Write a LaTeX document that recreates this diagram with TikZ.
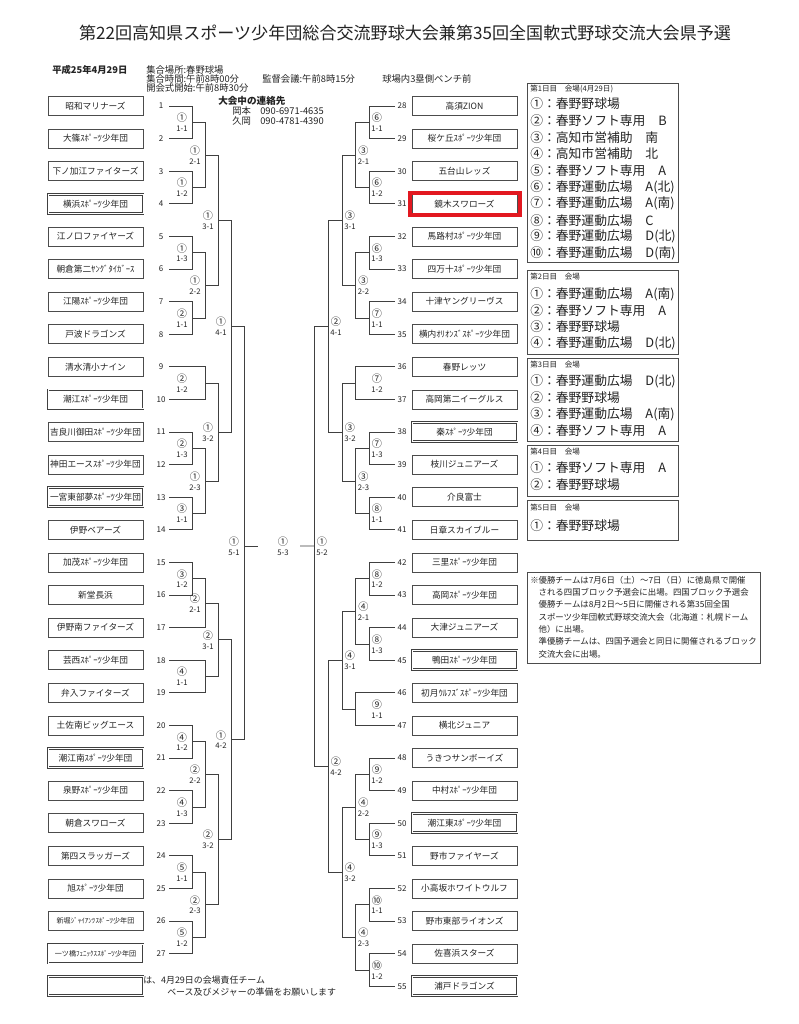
\documentclass[tikz,border=0pt]{standalone}
\usepackage{fontspec}
\newfontfamily\jp{Noto Sans CJK JP}
\usetikzlibrary{calc}
\definecolor{hl}{RGB}{226,24,32}
\definecolor{ink}{RGB}{35,35,35}
\newcommand\TL[3]{%
 \node[teamL,#3] (t#1) at (95.5,{106+(#1-1)*32.6}) {#2};
 \node[numtxt] (n#1) at (161,{106+(#1-1)*32.6}) {#1};
 \coordinate (p#1) at (169,{106+(#1-1)*32.6});}
\newcommand\TR[3]{%
 \node[teamR,#3] (t#1) at (464.5,{106+(#1-28)*32.6}) {#2};
 \node[numtxt] (n#1) at (402,{106+(#1-28)*32.6}) {#1};
 \coordinate (p#1) at (395,{106+(#1-28)*32.6});}
\newcommand\LM[7]{%
 \draw[br] (#2) -- (#2 -| #4) -- (#3 -| #4) -- (#3);
 \coordinate (#1) at ($(#2 -| #4)!0.5!(#3 -| #4)$);
 \node[mlab,xshift=-7.5pt] (l#1) at (#1 -| #7) {{\fontsize{7.6}{7.6}\selectfont #5}\\#6};}
\newcommand\RM[7]{%
 \draw[br] (#2) -- (#2 -| #4) -- (#3 -| #4) -- (#3);
 \coordinate (#1) at ($(#2 -| #4)!0.5!(#3 -| #4)$);
 \node[mlab,xshift=6pt] (l#1) at (#1 -| #7) {{\fontsize{7.6}{7.6}\selectfont #5}\\#6};}
\begin{document}
\begin{tikzpicture}[x=0.75pt,y=-0.75pt,
 tb/.style={draw=black!70, line width=0.5pt, minimum height=14.25pt, inner sep=0pt, font=\jp\fontsize{6.5}{6.5}\selectfont, text=ink},
 teamL/.style={tb, minimum width=71.25pt},
 teamR/.style={tb, minimum width=78.75pt},
 resp/.style={draw=black!75, double=white, double distance=0.75pt, line width=0.55pt},
 tsmall/.style={font=\jp\fontsize{5.3}{5.3}\selectfont},
 numtxt/.style={inner sep=0pt, font=\jp\fontsize{6}{6}\selectfont, text=ink},
 br/.style={draw=black!75, line width=0.55pt},
 mlab/.style={align=center, inner sep=0pt, font=\jp\fontsize{5.8}{7.4}\selectfont, text=ink},
 hd/.style={anchor=west, inner sep=0pt, font=\jp\fontsize{7}{7}\selectfont, text=ink},
 vbox/.style={draw=black!70, line width=0.6pt, anchor=north west, inner sep=0pt, minimum width=113.25pt},
 vt/.style={anchor=west, inner sep=0pt, font=\jp\fontsize{9.6}{9.6}\selectfont, text=ink},
 vh/.style={anchor=west, inner sep=0pt, font=\jp\fontsize{5.7}{5.7}\selectfont, text=ink}]
\useasboundingbox (0,0) rectangle (799,1024);
\fill[white] (0,0) rectangle (799,1024);
% title and header
\node[inner sep=0pt, font=\jp\fontsize{12.8}{12.8}\selectfont, text=ink] (title) at (405,33) {第22回高知県スポーツ少年団総合交流野球大会兼第35回全国軟式野球交流大会県予選};
\node[hd, font=\jp\bfseries\fontsize{7}{7}\selectfont] (date) at (52,70) {平成25年4月29日};
\node[hd] (h1) at (146,70) {集合場所:春野球場};
\node[hd] (h2) at (146,79) {集合時間:午前8時00分};
\node[hd] (h3) at (262,79) {監督会議:午前8時15分};
\node[hd] (h4) at (382,79) {球場内3塁側ベンチ前};
\node[hd] (h5) at (146,88) {開会式開始:午前8時30分};
\node[hd, font=\jp\bfseries\fontsize{7.2}{7.2}\selectfont] (c0) at (218,101) {大会中の連絡先};
\node[hd] (c1) at (232,111) {岡本　090-6971-4635};
\node[hd] (c2) at (232,121) {久岡　090-4781-4390};
% columns
\coordinate (xL1) at (192,0); \coordinate (xL2) at (205,0); \coordinate (xL3) at (218,0);
\coordinate (xL4) at (231,0); \coordinate (xL5) at (244,0);
\coordinate (xR1) at (369,0); \coordinate (xR2) at (355.5,0); \coordinate (xR3) at (342,0);
\coordinate (xR4) at (328,0); \coordinate (xR5) at (314,0);
% left teams
\TL{1}{昭和マリナーズ}{}
\TL{2}{大篠ｽﾎﾟｰﾂ少年団}{}
\TL{3}{下ノ加江ファイターズ}{}
\TL{4}{横浜ｽﾎﾟｰﾂ少年団}{resp}
\TL{5}{江ノ口ファイヤーズ}{}
\TL{6}{朝倉第二ﾔﾝｸﾞﾀｲｶﾞｰｽ}{}
\TL{7}{江陽ｽﾎﾟｰﾂ少年団}{}
\TL{8}{戸波ドラゴンズ}{}
\TL{9}{清水清小ナイン}{}
\TL{10}{潮江ｽﾎﾟｰﾂ少年団}{resp}
\TL{11}{吉良川御田ｽﾎﾟｰﾂ少年団}{}
\TL{12}{神田エースｽﾎﾟｰﾂ少年団}{}
\TL{13}{一宮東部夢ｽﾎﾟｰﾂ少年団}{resp}
\TL{14}{伊野ベアーズ}{}
\TL{15}{加茂ｽﾎﾟｰﾂ少年団}{}
\TL{16}{新堂長浜}{}
\TL{17}{伊野南ファイターズ}{}
\TL{18}{芸西ｽﾎﾟｰﾂ少年団}{}
\TL{19}{弁入ファイターズ}{}
\TL{20}{土佐南ビッグエース}{}
\TL{21}{潮江南ｽﾎﾟｰﾂ少年団}{resp}
\TL{22}{泉野ｽﾎﾟｰﾂ少年団}{}
\TL{23}{朝倉スワローズ}{}
\TL{24}{第四スラッガーズ}{}
\TL{25}{旭ｽﾎﾟｰﾂ少年団}{}
\TL{26}{新堀ｼﾞｬｲｱﾝﾂｽﾎﾟｰﾂ少年団}{tsmall}
\TL{27}{一ツ橋ﾌｪﾆｯｸｽｽﾎﾟｰﾂ少年団}{resp,tsmall}
% right teams
\TR{28}{高須ZION}{}
\TR{29}{桜ケ丘ｽﾎﾟｰﾂ少年団}{}
\TR{30}{五台山レッズ}{}
\TR{31}{鏡木スワローズ}{}
\TR{32}{馬路村ｽﾎﾟｰﾂ少年団}{}
\TR{33}{四万十ｽﾎﾟｰﾂ少年団}{}
\TR{34}{十津ヤングリーヴス}{}
\TR{35}{横内ｵﾘｵﾝｽﾞｽﾎﾟｰﾂ少年団}{}
\TR{36}{春野レッツ}{}
\TR{37}{高岡第二イーグルス}{}
\TR{38}{秦ｽﾎﾟｰﾂ少年団}{resp}
\TR{39}{枝川ジュニアーズ}{}
\TR{40}{介良富士}{}
\TR{41}{日章スカイブルー}{}
\TR{42}{三里ｽﾎﾟｰﾂ少年団}{}
\TR{43}{高岡ｽﾎﾟｰﾂ少年団}{}
\TR{44}{大津ジュニアーズ}{}
\TR{45}{鴨田ｽﾎﾟｰﾂ少年団}{resp}
\TR{46}{初月ｳﾙﾌｽﾞｽﾎﾟｰﾂ少年団}{}
\TR{47}{横北ジュニア}{}
\TR{48}{うきつサンボーイズ}{}
\TR{49}{中村ｽﾎﾟｰﾂ少年団}{}
\TR{50}{潮江東ｽﾎﾟｰﾂ少年団}{resp}
\TR{51}{野市ファイヤーズ}{}
\TR{52}{小高坂ホワイトウルフ}{}
\TR{53}{野市東部ライオンズ}{}
\TR{54}{佐喜浜スターズ}{}
\TR{55}{浦戸ドラゴンズ}{resp}
\node[draw=hl, line width=3pt, minimum width=82.5pt, minimum height=16.5pt, inner sep=0pt] (mark31) at (t31) {};
% left bracket
\LM{a1}{p1}{p2}{xL1}{①}{1-1}{xL1}
\LM{a2}{p3}{p4}{xL1}{①}{1-2}{xL1}
\LM{b1}{a1}{a2}{xL2}{①}{2-1}{xL2}
\LM{a3}{p5}{p6}{xL1}{①}{1-3}{xL1}
\LM{a4}{p7}{p8}{xL1}{②}{1-1}{xL1}
\LM{b2}{a3}{a4}{xL2}{①}{2-2}{xL2}
\LM{c1}{b1}{b2}{xL3}{①}{3-1}{xL3}
\LM{a5}{p9}{p10}{xL2}{②}{1-2}{xL1}
\LM{a6}{p11}{p12}{xL1}{②}{1-3}{xL1}
\LM{a7}{p13}{p14}{xL1}{③}{1-1}{xL1}
\LM{b3}{a6}{a7}{xL2}{①}{2-3}{xL2}
\LM{c2}{a5}{b3}{xL3}{①}{3-2}{xL3}
\LM{d1}{c1}{c2}{xL4}{①}{4-1}{xL4}
\LM{a8}{p15}{p16}{xL1}{③}{1-2}{xL1}
\LM{b4}{a8}{p17}{xL2}{②}{2-1}{xL2}
\LM{a9}{p18}{p19}{xL2}{④}{1-1}{xL1}
\LM{c3}{b4}{a9}{xL3}{②}{3-1}{xL3}
\LM{a10}{p20}{p21}{xL1}{④}{1-2}{xL1}
\LM{a11}{p22}{p23}{xL1}{④}{1-3}{xL1}
\LM{b5}{a10}{a11}{xL2}{②}{2-2}{xL2}
\LM{a12}{p24}{p25}{xL1}{⑤}{1-1}{xL1}
\LM{a13}{p26}{p27}{xL1}{⑤}{1-2}{xL1}
\LM{b6}{a12}{a13}{xL2}{②}{2-3}{xL2}
\LM{c4}{b5}{b6}{xL3}{②}{3-2}{xL3}
\LM{d2}{c3}{c4}{xL4}{①}{4-2}{xL4}
\coordinate (e1) at (244,546);
\coordinate (f1) at (258,546);
\draw[br] (d1) -- (d1 -| e1) -- (d2 -| e1) -- (d2);
\draw[br] (e1) -- (f1);
\node[mlab,xshift=-7.5pt] (le1) at (e1) {{\fontsize{7.6}{7.6}\selectfont ①}\\5-1};
% right bracket
\RM{g1}{p28}{p29}{xR1}{⑥}{1-1}{xR1}
\RM{g2}{p30}{p31}{xR1}{⑥}{1-2}{xR1}
\RM{h1}{g1}{g2}{xR2}{③}{2-1}{xR2}
\RM{g3}{p32}{p33}{xR1}{⑥}{1-3}{xR1}
\RM{g4}{p34}{p35}{xR1}{⑦}{1-1}{xR1}
\RM{h2}{g3}{g4}{xR2}{③}{2-2}{xR2}
\RM{i1}{h1}{h2}{xR3}{③}{3-1}{xR3}
\RM{g5}{p36}{p37}{xR2}{⑦}{1-2}{xR1}
\RM{g6}{p38}{p39}{xR1}{⑦}{1-3}{xR1}
\RM{g7}{p40}{p41}{xR1}{⑧}{1-1}{xR1}
\RM{h3}{g6}{g7}{xR2}{③}{2-3}{xR2}
\RM{i2}{g5}{h3}{xR3}{③}{3-2}{xR3}
\RM{j1}{i1}{i2}{xR4}{②}{4-1}{xR4}
\RM{g8}{p42}{p43}{xR1}{⑧}{1-2}{xR1}
\RM{g9}{p44}{p45}{xR1}{⑧}{1-3}{xR1}
\RM{h4}{g8}{g9}{xR2}{④}{2-1}{xR2}
\RM{g10}{p46}{p47}{xR2}{⑨}{1-1}{xR1}
\RM{i3}{h4}{g10}{xR3}{④}{3-1}{xR3}
\RM{g11}{p48}{p49}{xR1}{⑨}{1-2}{xR1}
\RM{g12}{p50}{p51}{xR1}{⑨}{1-3}{xR1}
\RM{h5}{g11}{g12}{xR2}{④}{2-2}{xR2}
\RM{g13}{p52}{p53}{xR1}{⑩}{1-1}{xR1}
\RM{g14}{p54}{p55}{xR1}{⑩}{1-2}{xR1}
\RM{h6}{g13}{g14}{xR2}{④}{2-3}{xR2}
\RM{i4}{h5}{h6}{xR3}{④}{3-2}{xR3}
\RM{j2}{i3}{i4}{xR4}{②}{4-2}{xR4}
\RM{k1}{j1}{j2}{xR5}{①}{5-2}{xR5}
\coordinate (f2) at (300,546);
\draw[br] (k1) -- (f2);
\node[mlab] (final) at (283,546) {{\fontsize{7.6}{7.6}\selectfont ①}\\5-3};
% venue boxes
\node[vbox, minimum height=134.25pt] (v1) at (527,83) {};
\node[vh] (v1h) at (530,89) {第1日目　会場(4月29日)};
\node[vt] (v11) at (530,104) {①：春野野球場};
\node[vt] (v12) at (530,120.6) {②：春野ソフト専用　B};
\node[vt] (v13) at (530,137.2) {③：高知市営補助　南};
\node[vt] (v14) at (530,153.8) {④：高知市営補助　北};
\node[vt] (v15) at (530,170.4) {⑤：春野ソフト専用　A};
\node[vt] (v16) at (530,187) {⑥：春野運動広場　A(北)};
\node[vt] (v17) at (530,203.6) {⑦：春野運動広場　A(南)};
\node[vt] (v18) at (530,220.2) {⑧：春野運動広場　C};
\node[vt] (v19) at (530,236.8) {⑨：春野運動広場　D(北)};
\node[vt] (v110) at (530,253.4) {⑩：春野運動広場　D(南)};
\node[vbox, minimum height=63pt] (v2) at (527,270) {};
\node[vh] (v2h) at (530,277) {第2日目　会場};
\node[vt] (v21) at (530,294) {①：春野運動広場　A(南)};
\node[vt] (v22) at (530,310.5) {②：春野ソフト専用　A};
\node[vt] (v23) at (530,327) {③：春野野球場};
\node[vt] (v24) at (530,343.5) {④：春野運動広場　D(北)};
\node[vbox, minimum height=62.25pt] (v3) at (527,358) {};
\node[vh] (v3h) at (530,365) {第3日目　会場};
\node[vt] (v31) at (530,381) {①：春野運動広場　D(北)};
\node[vt] (v32) at (530,397.5) {②：春野野球場};
\node[vt] (v33) at (530,414) {③：春野運動広場　A(南)};
\node[vt] (v34) at (530,430.5) {④：春野ソフト専用　A};
\node[vbox, minimum height=38.25pt] (v4) at (527,445) {};
\node[vh] (v4h) at (530,452) {第4日目　会場};
\node[vt] (v41) at (530,468) {①：春野ソフト専用　A};
\node[vt] (v42) at (530,484.5) {②：春野野球場};
\node[vbox, minimum height=30pt] (v5) at (527,500) {};
\node[vh] (v5h) at (530,508) {第5日目　会場};
\node[vt] (v51) at (530,526) {①：春野野球場};
% note box
\node[vbox, minimum width=174.75pt, minimum height=68.25pt] (note) at (527,572) {};
\node[anchor=north west, inner sep=0pt, align=left, font=\jp\fontsize{6.3}{9.2}\selectfont, text=ink] (notetxt) at (530,576) {※優勝チームは7月6日（土）～7日（日）に徳島県で開催\\　される四国ブロック予選会に出場。四国ブロック予選会\\　優勝チームは8月2日～5日に開催される第35回全国\\　スポーツ少年団軟式野球交流大会（北海道：札幌ドーム\\　他）に出場。\\　準優勝チームは、四国予選会と同日に開催されるブロック\\　交流大会に出場。};
% legend
\node[teamL,resp] (leg) at (95.5,986) {};
\node[anchor=west, inner sep=0pt, font=\jp\fontsize{6.7}{6.7}\selectfont, text=ink] (leg1) at (143,980) {は、4月29日の会場責任チーム};
\node[anchor=west, inner sep=0pt, font=\jp\fontsize{6.7}{6.7}\selectfont, text=ink] (leg2) at (167,992) {ベース及びメジャーの準備をお願いします};
\end{tikzpicture}
\end{document}
